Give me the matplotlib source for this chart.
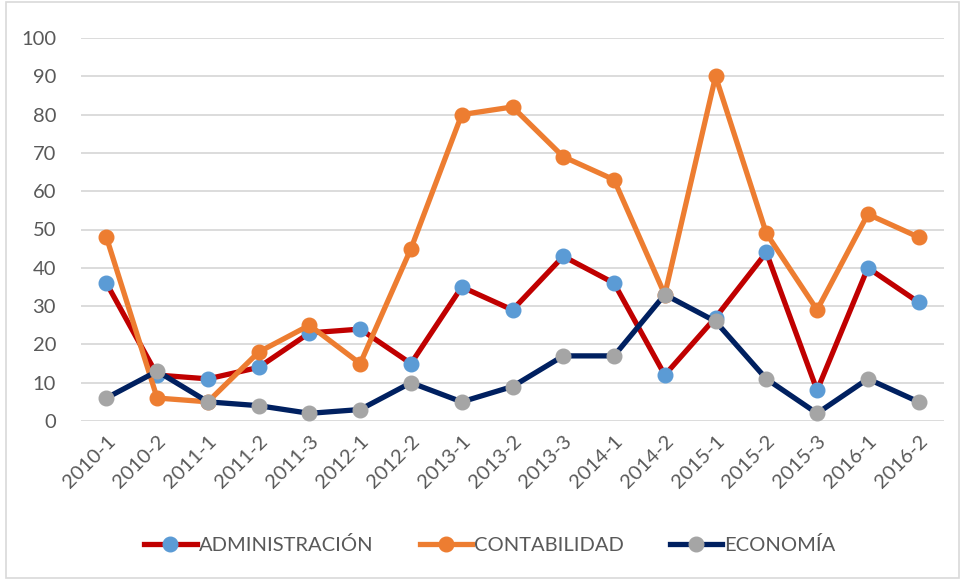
import matplotlib
matplotlib.use("Agg")
import matplotlib.pyplot as plt
from matplotlib.patches import Rectangle

# ------------------ Data ------------------

periods = ["2010-1", "2010-2", "2011-1", "2011-2", "2011-3", "2012-1", "2012-2",
           "2013-1", "2013-2", "2013-3", "2014-1", "2014-2", "2015-1", "2015-2",
           "2015-3", "2016-1", "2016-2"]
administracion = [36, 12, 11, 14, 23, 24, 15, 35, 29, 43, 36, 12, 27, 44, 8, 40, 31]
contabilidad = [48, 6, 5, 18, 25, 15, 45, 80, 82, 69, 63, 33, 90, 49, 29, 54, 48]
economia = [6, 13, 5, 4, 2, 3, 10, 5, 9, 17, 17, 33, 26, 11, 2, 11, 5]

# ------------------ Plot ------------------

plt.rcParams["font.family"] = ["Lato", "DejaVu Sans"]
text_color = "#595959"

fig = plt.figure(figsize=(9.61, 5.8), dpi=100)
ax = fig.add_axes([81 / 961, 1 - 421 / 580, 863 / 961, 383 / 580])

series = [
    ("ADMINISTRACIÓN", administracion, "#c00000", "#5b9bd5"),
    ("CONTABILIDAD", contabilidad, "#ed7d31", "#ed7d31"),
    ("ECONOMÍA", economia, "#002060", "#a5a5a5"),
]
x = list(range(len(periods)))
for name, vals, lc, mc in series:
    ax.plot(x, vals, color=lc, lw=3.8, marker="o", markersize=10.5,
            markerfacecolor=mc, markeredgecolor=mc, label=name,
            solid_joinstyle="round")

ax.set_xlim(-0.5, len(periods) - 0.5)
ax.set_ylim(0, 100)
ax.set_yticks(range(0, 101, 10))
ax.set_xticks(x)
ax.set_xticklabels(periods, rotation=45, ha="right", rotation_mode="anchor")
ax.tick_params(axis="both", length=0, colors=text_color, labelsize=14.5)
ax.tick_params(axis="x", pad=8)
ax.tick_params(axis="y", pad=18)
ax.grid(axis="y", color="#d9d9d9", lw=1.3)
ax.set_axisbelow(True)
for s in ax.spines.values():
    s.set_visible(False)
for line in ax.lines:
    line.set_clip_on(False)

leg = fig.legend(loc="center", bbox_to_anchor=(490 / 961, 1 - 545 / 580), ncol=3,
                 frameon=False, fontsize=14.5, handlelength=2.6, handletextpad=0.1,
                 columnspacing=2.3, labelcolor=text_color)

# figure border
fig.patches.append(Rectangle((6 / 961, 2 / 580), 953 / 961, 576 / 580,
                             transform=fig.transFigure, fill=False,
                             edgecolor="#d9d9d9", lw=1.2))

fig.savefig("out.png", dpi=100, facecolor="white")
